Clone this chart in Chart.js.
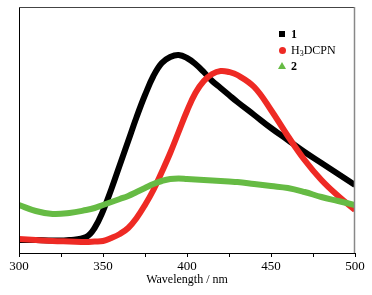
<!DOCTYPE html>
<html>
<head>
<meta charset="utf-8">
<script src="https://cdn.jsdelivr.net/npm/chart.js@4"></script>
<style>
  html, body { margin: 0; padding: 0; background: #fff; }
  #wrap { position: relative; width: 372px; height: 295px; }
  #legend { position: absolute; left: 277px; top: 26px; font-family: "Liberation Serif", serif; font-size: 12px; color: #000; }
  #legend div { height: 16px; line-height: 16px; white-space: nowrap; }
  #legend .mk { display: inline-block; width: 10px; margin-right: 4px; text-align: center; }
  #legend sub { font-size: 8px; vertical-align: -2px; }
</style>
</head>
<body>
<div id="wrap">
  <canvas id="myChart" width="372" height="295"></canvas>
  <div id="legend">
    <div><span class="mk"><span style="display:inline-block;width:6px;height:6px;background:#000;vertical-align:1px"></span></span><b>1</b></div>
    <div><span class="mk"><span style="display:inline-block;width:7px;height:7px;border-radius:50%;background:#ee2a24;vertical-align:0px"></span></span>H<sub>3</sub>DCPN</div>
    <div><span class="mk"><span style="display:inline-block;width:0;height:0;border-left:4px solid transparent;border-right:4px solid transparent;border-bottom:7px solid #66bb44;vertical-align:1px"></span></span><b>2</b></div>
  </div>
</div>
<script>
// wavelengths (nm) and intensity readings (arbitrary units)
const wavelengths = [300, 310, 320, 330, 340, 345, 350, 355, 360, 365, 370, 375, 380, 385, 390, 395, 400, 405, 410, 415, 420, 425, 430, 440, 450, 460, 470, 480, 490, 500];
const series1     = [13, 13, 12.5, 13, 16, 25, 42, 64, 88, 112, 136, 158, 177, 190, 196, 198, 195, 189, 181, 172, 165, 158, 151, 138, 125, 113, 101, 90, 79, 68];
const seriesH3    = [14, 13, 12, 11.5, 11, 11.5, 12, 15, 19, 25, 35, 48, 63, 81, 100, 121, 142, 160, 172, 179, 182, 181, 178, 166, 143, 117, 93, 73, 57, 43];
const series2     = [48, 42, 39, 40, 43, 45, 48, 51, 54, 57, 61, 65, 69, 72, 74, 74.5, 74, 73.5, 73, 72.5, 72, 71.5, 71, 69, 67, 65, 61, 56, 52, 48];
const xTicks = [300, 350, 400, 450, 500];

function pts(vals) {
  return wavelengths.map((w, i) => ({ x: w, y: vals[i] }));
}

// draws the box round the plot (y axis itself is hidden)
const frame = {
  id: 'frame',
  afterDraw(chart) {
    const a = chart.chartArea;
    const ctx = chart.ctx;
    ctx.save();
    ctx.lineWidth = 1;
    ctx.strokeStyle = '#000';
    ctx.beginPath();
    ctx.moveTo(a.left + 0.5, a.bottom);
    ctx.lineTo(a.left + 0.5, a.top + 0.5);
    ctx.stroke();
    ctx.strokeStyle = '#444';
    ctx.beginPath();
    ctx.moveTo(a.left, a.top + 0.5);
    ctx.lineTo(a.right - 0.5, a.top + 0.5);
    ctx.stroke();
    ctx.strokeStyle = '#888';
    ctx.lineWidth = 1.5;
    ctx.beginPath();
    ctx.moveTo(a.right - 0.5, a.top);
    ctx.lineTo(a.right - 0.5, a.bottom);
    ctx.stroke();
    ctx.restore();
  }
};

const lineStyle = { pointRadius: 0, borderWidth: 6, tension: 0.4, fill: false };

const ctx = document.getElementById('myChart').getContext('2d');
const myChart = new Chart(ctx, {
  type: 'line',
  data: {
    datasets: [
      Object.assign({ label: 'green', data: pts(series2), borderColor: '#66bb44' }, lineStyle),
      Object.assign({ label: 'red', data: pts(seriesH3), borderColor: '#ee2a24' }, lineStyle),
      Object.assign({ label: 'black', data: pts(series1), borderColor: '#000000' }, lineStyle)
    ]
  },
  options: {
    responsive: false,
    animation: false,
    layout: { padding: { left: 19, top: 7, right: 17, bottom: 0 } },
    plugins: { legend: { display: false }, tooltip: { enabled: false } },
    scales: {
      x: {
        type: 'linear',
        min: 300,
        max: 500,
        afterFit(s) { s.height = 42; },
        afterBuildTicks(s) { s.ticks = [300, 325, 350, 375, 400, 425, 450, 475, 500].map(v => ({ value: v })); },
        ticks: {
          autoSkip: false,
          maxRotation: 0,
          padding: 2,
          color: '#000',
          font: { family: 'Liberation Serif', size: 13 },
          callback: v => xTicks.includes(v) ? String(v) : ''
        },
        grid: { drawOnChartArea: false, drawTicks: true, tickLength: 4, color: '#000' },
        border: { display: true, color: '#000', width: 1 },
        title: {
          display: true,
          text: 'Wavelength / nm',
          color: '#000',
          font: { family: 'Liberation Serif', size: 12 },
          padding: { top: 0, bottom: 8 }
        }
      },
      y: {
        display: false,
        min: 0,
        max: 246
      }
    }
  },
  plugins: [frame]
});
</script>
</body>
</html>
